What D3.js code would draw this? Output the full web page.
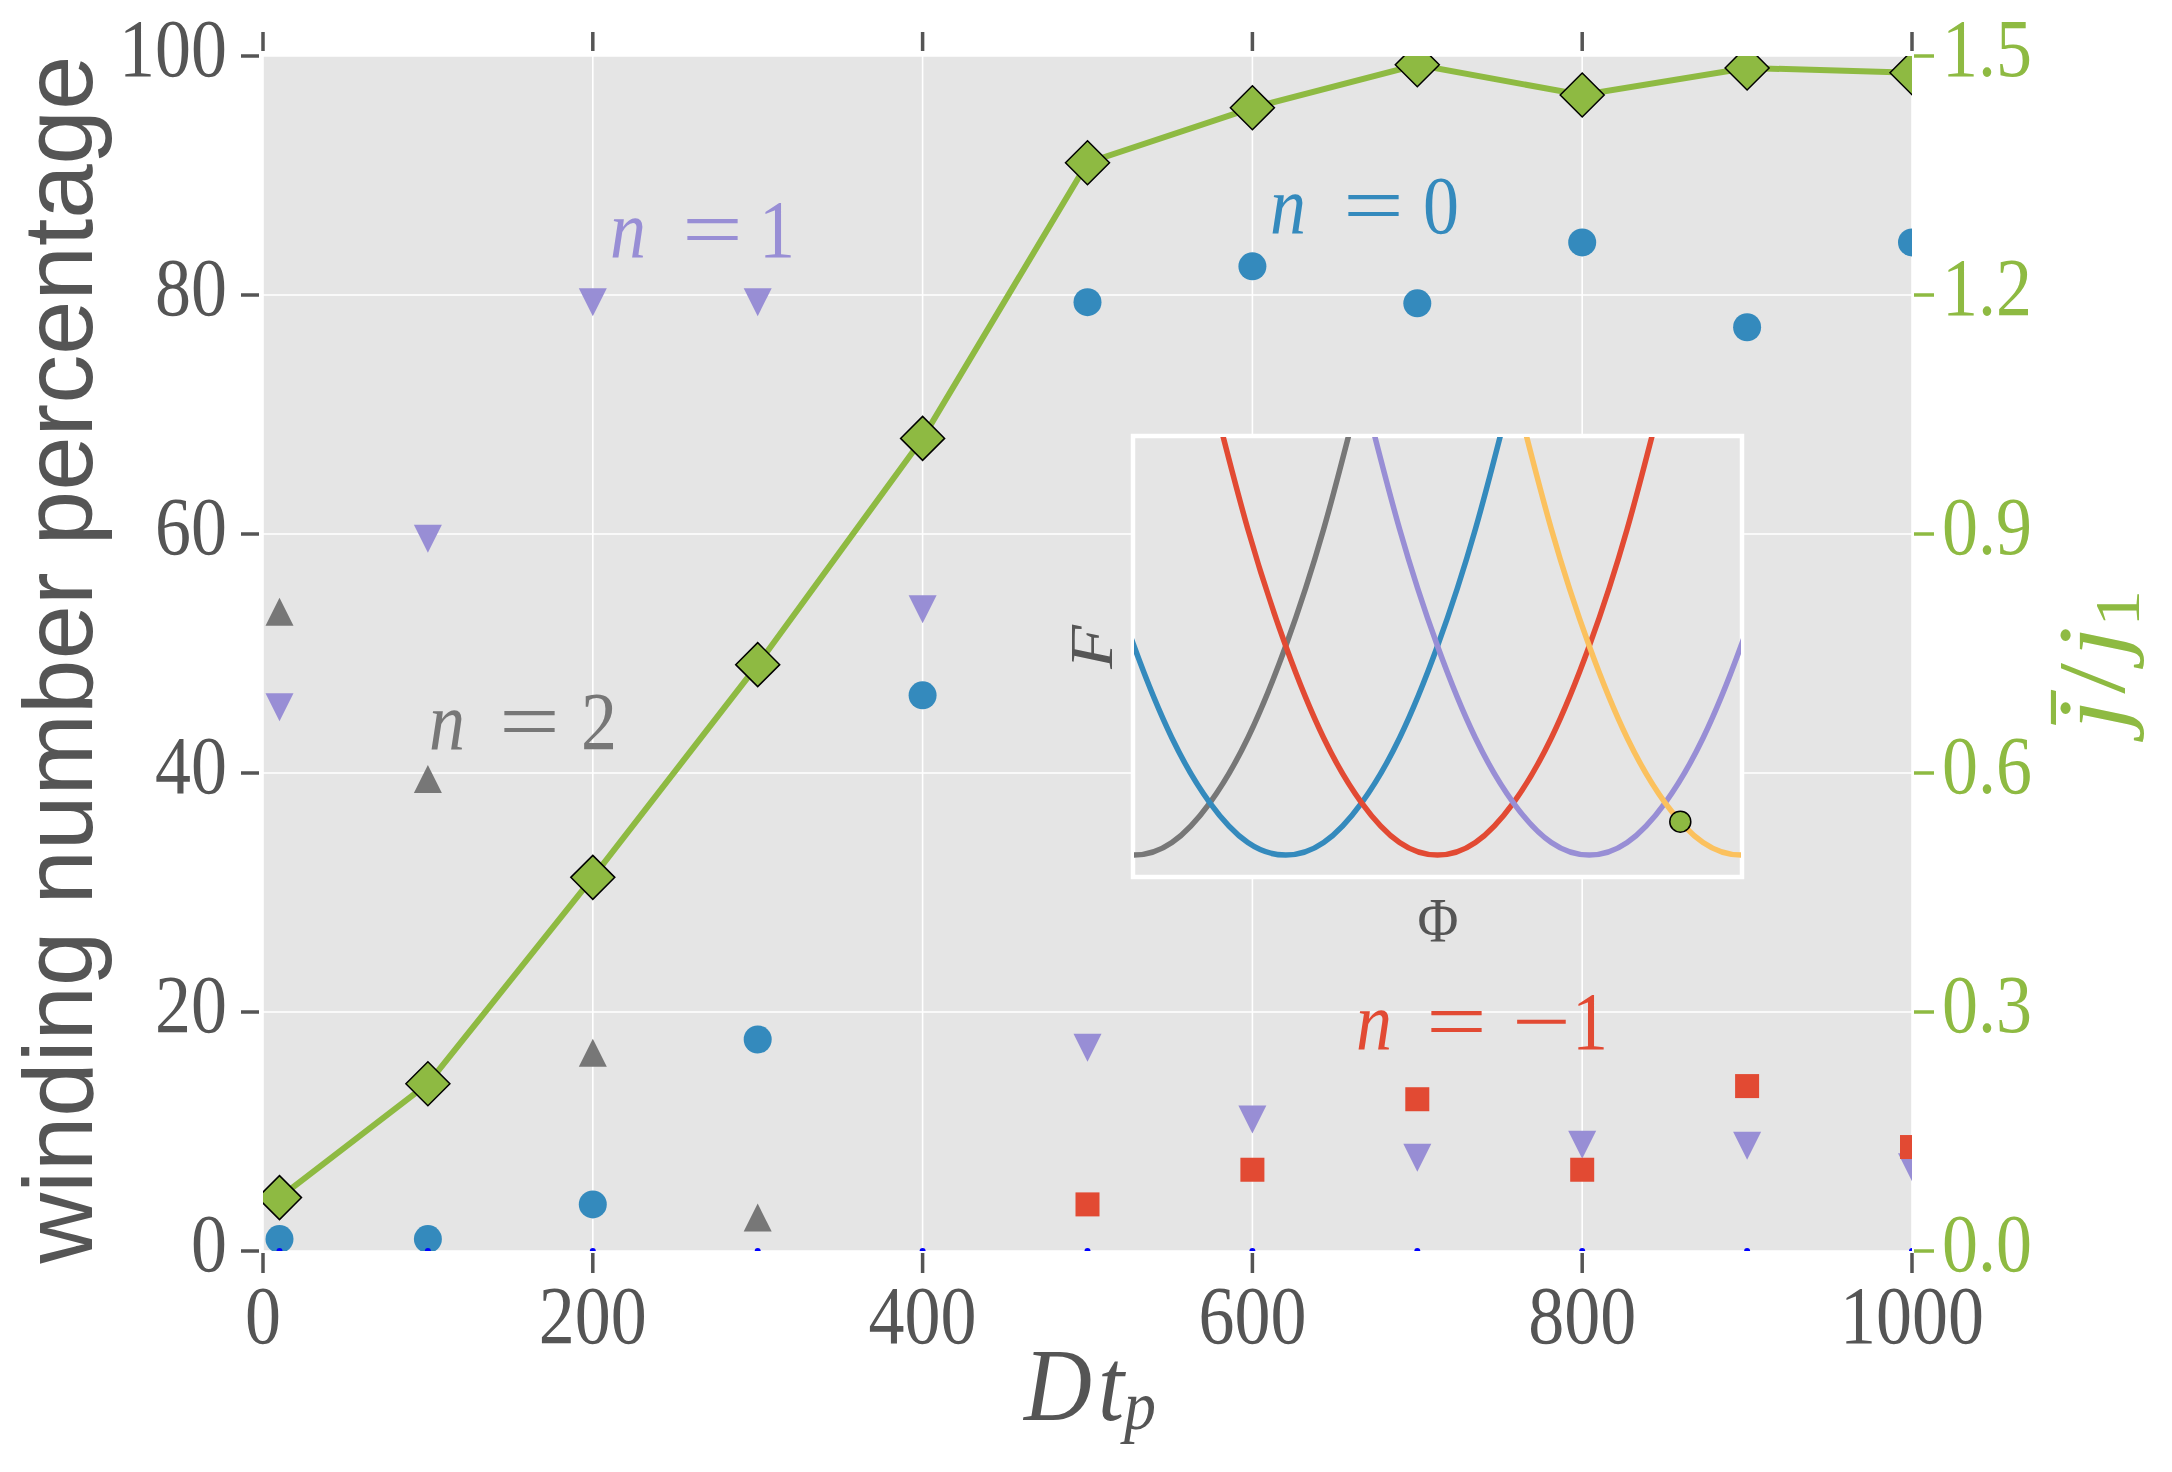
<!DOCTYPE html>
<html lang="en">
<head>
<meta charset="utf-8">
<title>winding number percentage</title>
<script src="https://cdn.jsdelivr.net/npm/d3@7"></script>
</head>
<body style="margin:0; background:#fff">
<script>
// ---- data ----
var dt = [10, 100, 200, 300, 400, 500, 600, 700, 800, 900, 1000];
var nZero = [1, 1, 3.9, 17.7, 46.5, 79.4, 82.4, 79.3, 84.4, 77.3, 84.4];      // blue circles
var nOne = [45.5, 59.6, 79.4, 79.4, 53.7, 17, 11, 7.8, 8.9, 8.8, 7.0];       // purple down triangles
var dtTwo = [10, 100, 200, 300];
var nTwo = [53.5, 39.5, 16.6, 2.8];                                           // gray up triangles
var dtMinusOne = [500, 600, 700, 800, 900, 1000];
var nMinusOne = [3.9, 6.8, 12.7, 6.8, 13.8, 8.7];                            // red squares
var nRest = [0, 0, 0, 0, 0, 0, 0, 0, 0, 0, 0];                                // tiny blue dots on the axis
var jRatio = [0.067, 0.21, 0.469, 0.736, 1.02, 1.366, 1.435, 1.489, 1.451, 1.485, 1.479]; // right axis

var xTicks = [0, 200, 400, 600, 800, 1000];
var yTicks = [0, 20, 40, 60, 80, 100];
var yRTicks = [0.0, 0.3, 0.6, 0.9, 1.2, 1.5];

// inset: free energy wells F(Phi)
var wellCenters = [0, 1, 2, 3, 4];
var wellColors = ["#777777", "#348ABD", "#E24A33", "#988ED5", "#FBC15E"];
var wellOffset = [-1.5, -1.25, -1, -0.75, -0.5, -0.25, 0, 0.25, 0.5, 0.75, 1, 1.25, 1.5];
var wellF = [2.25, 1.56, 1, 0.56, 0.25, 0.06, 0, 0.06, 0.25, 0.56, 1, 1.56, 2.25];
var statePhi = 3.6, stateF = 0.16;

// ---- layout ----
var W = 2172, H = 1472;
var L = 263, R = 1912, T = 56, B = 1251;
var SY = 1.15;   // the figure is a little stretched vertically
var SERIF = "'Liberation Serif', 'Times New Roman', serif";

var svg = d3.select("body").append("svg")
    .attr("width", W).attr("height", H);

var x = d3.scaleLinear().domain([0, 1000]).range([L, R]);
var y = d3.scaleLinear().domain([0, 100]).range([B, T]);
var yR = d3.scaleLinear().domain([0, 1.5]).range([B, T]);

svg.append("defs").append("clipPath").attr("id", "plotclip")
  .append("rect").attr("x", L).attr("y", T).attr("width", R - L).attr("height", B - T);

// background + grid
svg.append("rect").attr("x", L).attr("y", T).attr("width", R - L).attr("height", B - T)
    .attr("fill", "#E5E5E5");
svg.selectAll(".gx").data(xTicks).enter().append("line")
    .attr("x1", d => x(d)).attr("x2", d => x(d)).attr("y1", T).attr("y2", B)
    .attr("stroke", "#fff").attr("stroke-width", 1.6);
svg.selectAll(".gy").data(yTicks).enter().append("line")
    .attr("x1", L).attr("x2", R).attr("y1", d => y(d)).attr("y2", d => y(d))
    .attr("stroke", "#fff").attr("stroke-width", 1.6);

// tick marks
var tickCol = "#555555", green = "#8EBA42";
xTicks.forEach(function(d) {
  svg.append("line").attr("x1", x(d)).attr("x2", x(d)).attr("y1", 32).attr("y2", 51)
     .attr("stroke", tickCol).attr("stroke-width", 3.5);
  svg.append("line").attr("x1", x(d)).attr("x2", x(d)).attr("y1", B + 2).attr("y2", B + 22)
     .attr("stroke", tickCol).attr("stroke-width", 3.5);
});
yTicks.forEach(function(d) {
  svg.append("line").attr("x1", L - 22).attr("x2", L - 4).attr("y1", y(d)).attr("y2", y(d))
     .attr("stroke", tickCol).attr("stroke-width", 3.5);
});
yRTicks.forEach(function(d) {
  svg.append("line").attr("x1", R + 2).attr("x2", R + 22).attr("y1", yR(d)).attr("y2", yR(d))
     .attr("stroke", green).attr("stroke-width", 3.5);
});

// tick labels
function stext(px, py, str, anchor, color, size, sx) {
  return svg.append("text")
    .attr("transform", "translate(" + px + "," + py + ") scale(" + (sx || 1) + "," + SY + ")")
    .attr("text-anchor", anchor).attr("fill", color)
    .style("font-family", SERIF).style("font-size", size + "px").text(str);
}
yTicks.forEach(function(d) { stext(227, y(d) + 20, d, "end", tickCol, 72); });
xTicks.forEach(function(d) { stext(x(d), B + 92, d, "middle", tickCol, 72); });
yRTicks.forEach(function(d) { stext(1942, yR(d) + 20, d.toFixed(1), "start", green, 72); });

// ---- markers ----
var plot = svg.append("g").attr("clip-path", "url(#plotclip)");

function triUp(cx, cy, s) { return "M" + cx + "," + (cy - s) + "L" + (cx + s) + "," + (cy + s) + "L" + (cx - s) + "," + (cy + s) + "Z"; }
function triDown(cx, cy, s) { return "M" + cx + "," + (cy + s) + "L" + (cx + s) + "," + (cy - s) + "L" + (cx - s) + "," + (cy - s) + "Z"; }
function diamond(cx, cy, s) { return "M" + cx + "," + (cy - s) + "L" + (cx + s) + "," + cy + "L" + cx + "," + (cy + s) + "L" + (cx - s) + "," + cy + "Z"; }

plot.selectAll(".n0").data(dt).enter().append("circle")
    .attr("cx", d => x(d)).attr("cy", (d, i) => y(nZero[i])).attr("r", 14)
    .attr("fill", "#348ABD");
plot.selectAll(".n1").data(dt).enter().append("path")
    .attr("d", (d, i) => triDown(x(d), y(nOne[i]), 14)).attr("fill", "#988ED5");
plot.selectAll(".n2").data(dtTwo).enter().append("path")
    .attr("d", (d, i) => triUp(x(d), y(nTwo[i]), 14)).attr("fill", "#777777");
plot.selectAll(".nm1").data(dtMinusOne).enter().append("rect")
    .attr("x", d => x(d) - 12).attr("y", (d, i) => y(nMinusOne[i]) - 12)
    .attr("width", 24).attr("height", 24).attr("fill", "#E24A33");
plot.selectAll(".nr").data(dt).enter().append("circle")
    .attr("cx", d => x(d)).attr("cy", (d, i) => y(nRest[i])).attr("r", 3)
    .attr("fill", "#0000FF");

// right-axis line
var line = d3.line().x((d, i) => x(dt[i])).y(d => yR(d));
plot.append("path").datum(jRatio).attr("d", line)
    .attr("fill", "none").attr("stroke", green).attr("stroke-width", 6);
plot.selectAll(".jd").data(jRatio).enter().append("path")
    .attr("d", (d, i) => diamond(x(dt[i]), yR(d), 22))
    .attr("fill", green).attr("stroke", "#000").attr("stroke-width", 1.5);

// ---- n = ... annotations ----
function mathLabel(px, py, color, tokens) {
  var g = svg.append("g").attr("fill", color);
  tokens.forEach(function(tk) {
    var sx = tk[2] === "=" ? 1.5 : (tk[2] === "-" ? 1.45 : 1);
    g.append("text")
      .attr("transform", "translate(" + (px + tk[1]) + "," + py + ") scale(" + sx + "," + SY + ")")
      .style("font-family", SERIF)
      .style("font-size", "72px").style("font-style", tk[2] === "i" ? "italic" : "normal")
      .text(tk[0]);
  });
}
mathLabel(610, 257, "#988ED5", [["n", 0, "i"], ["=", 72, "="], ["1", 149, "r"]]);
mathLabel(1270, 233, "#348ABD", [["n", 0, "i"], ["=", 73, "="], ["0", 153, "r"]]);
mathLabel(429, 749, "#777777", [["n", 0, "i"], ["=", 70, "="], ["2", 152, "r"]]);
mathLabel(1356, 1049, "#E24A33", [["n", 0, "i"], ["=", 70, "="], ["\u2212", 156, "-"], ["1", 216, "r"]]);

// ---- axis labels ----
svg.append("text")
    .attr("transform", "translate(92," + ((T + B) / 2 + 6) + ") rotate(-90)")
    .attr("text-anchor", "middle").attr("fill", "#555555")
    .attr("textLength", 1208).attr("lengthAdjust", "spacingAndGlyphs")
    .style("font-family", "'Liberation Sans', Arial, sans-serif").style("font-size", "98px")
    .text("winding number percentage");

var xl = svg.append("text")
    .attr("transform", "translate(1090,1420) scale(1,1.1)")
    .attr("text-anchor", "middle").attr("fill", "#555555")
    .style("font-family", SERIF).style("font-size", "94px").style("font-style", "italic");
xl.append("tspan").text("D");
xl.append("tspan").attr("dx", 6).text("t");
xl.append("tspan").attr("dy", 8).style("font-size", "64px").text("p");

var yl = svg.append("text")
    .attr("transform", "translate(2124,660) rotate(-90) scale(1.15,1)")
    .attr("text-anchor", "middle").attr("fill", green)
    .style("font-family", SERIF).style("font-size", "96px");
yl.append("tspan").style("font-style", "italic").text("j\u0304");
yl.append("tspan").attr("dx", 5).text("/");
yl.append("tspan").attr("dx", 5).style("font-style", "italic").text("j");
yl.append("tspan").attr("dy", 15).style("font-size", "64px").text("1");

// ---- inset ----
var iL = 1134, iR = 1741, iT = 437, iB = 876;
var ix = d3.scaleLinear().domain([0, 4]).range([iL, iR]);
var iy = d3.scaleLinear().domain([-0.1, 2.0]).range([iB, iT]);
svg.select("defs").append("clipPath").attr("id", "insetclip")
  .append("rect").attr("x", iL).attr("y", iT).attr("width", iR - iL).attr("height", iB - iT);

svg.append("rect").attr("x", iL - 1).attr("y", iT - 1).attr("width", iR - iL + 2).attr("height", iB - iT + 2)
    .attr("fill", "#E5E5E5").attr("stroke", "#fff").attr("stroke-width", 4.5);
var inset = svg.append("g").attr("clip-path", "url(#insetclip)");
var well = d3.line().curve(d3.curveNatural)
    .x(d => ix(d[0])).y(d => iy(d[1]));
wellCenters.forEach(function(c, k) {
  var pts = wellOffset.map((o, i) => [c + o, wellF[i]]);
  inset.append("path").datum(pts).attr("d", well)
      .attr("fill", "none").attr("stroke", wellColors[k]).attr("stroke-width", 5.5);
});
inset.append("circle").attr("cx", ix(statePhi)).attr("cy", iy(stateF)).attr("r", 10.5)
    .attr("fill", green).attr("stroke", "#000").attr("stroke-width", 1.5);

svg.append("text")
    .attr("transform", "translate(1112,647) rotate(-90) scale(1.15,1)")
    .attr("text-anchor", "middle").attr("fill", "#555555")
    .style("font-family", SERIF).style("font-size", "62px").style("font-style", "italic").text("F");
stext(1438, 942, "\u03A6", "middle", "#555555", 56);
</script>
</body>
</html>
